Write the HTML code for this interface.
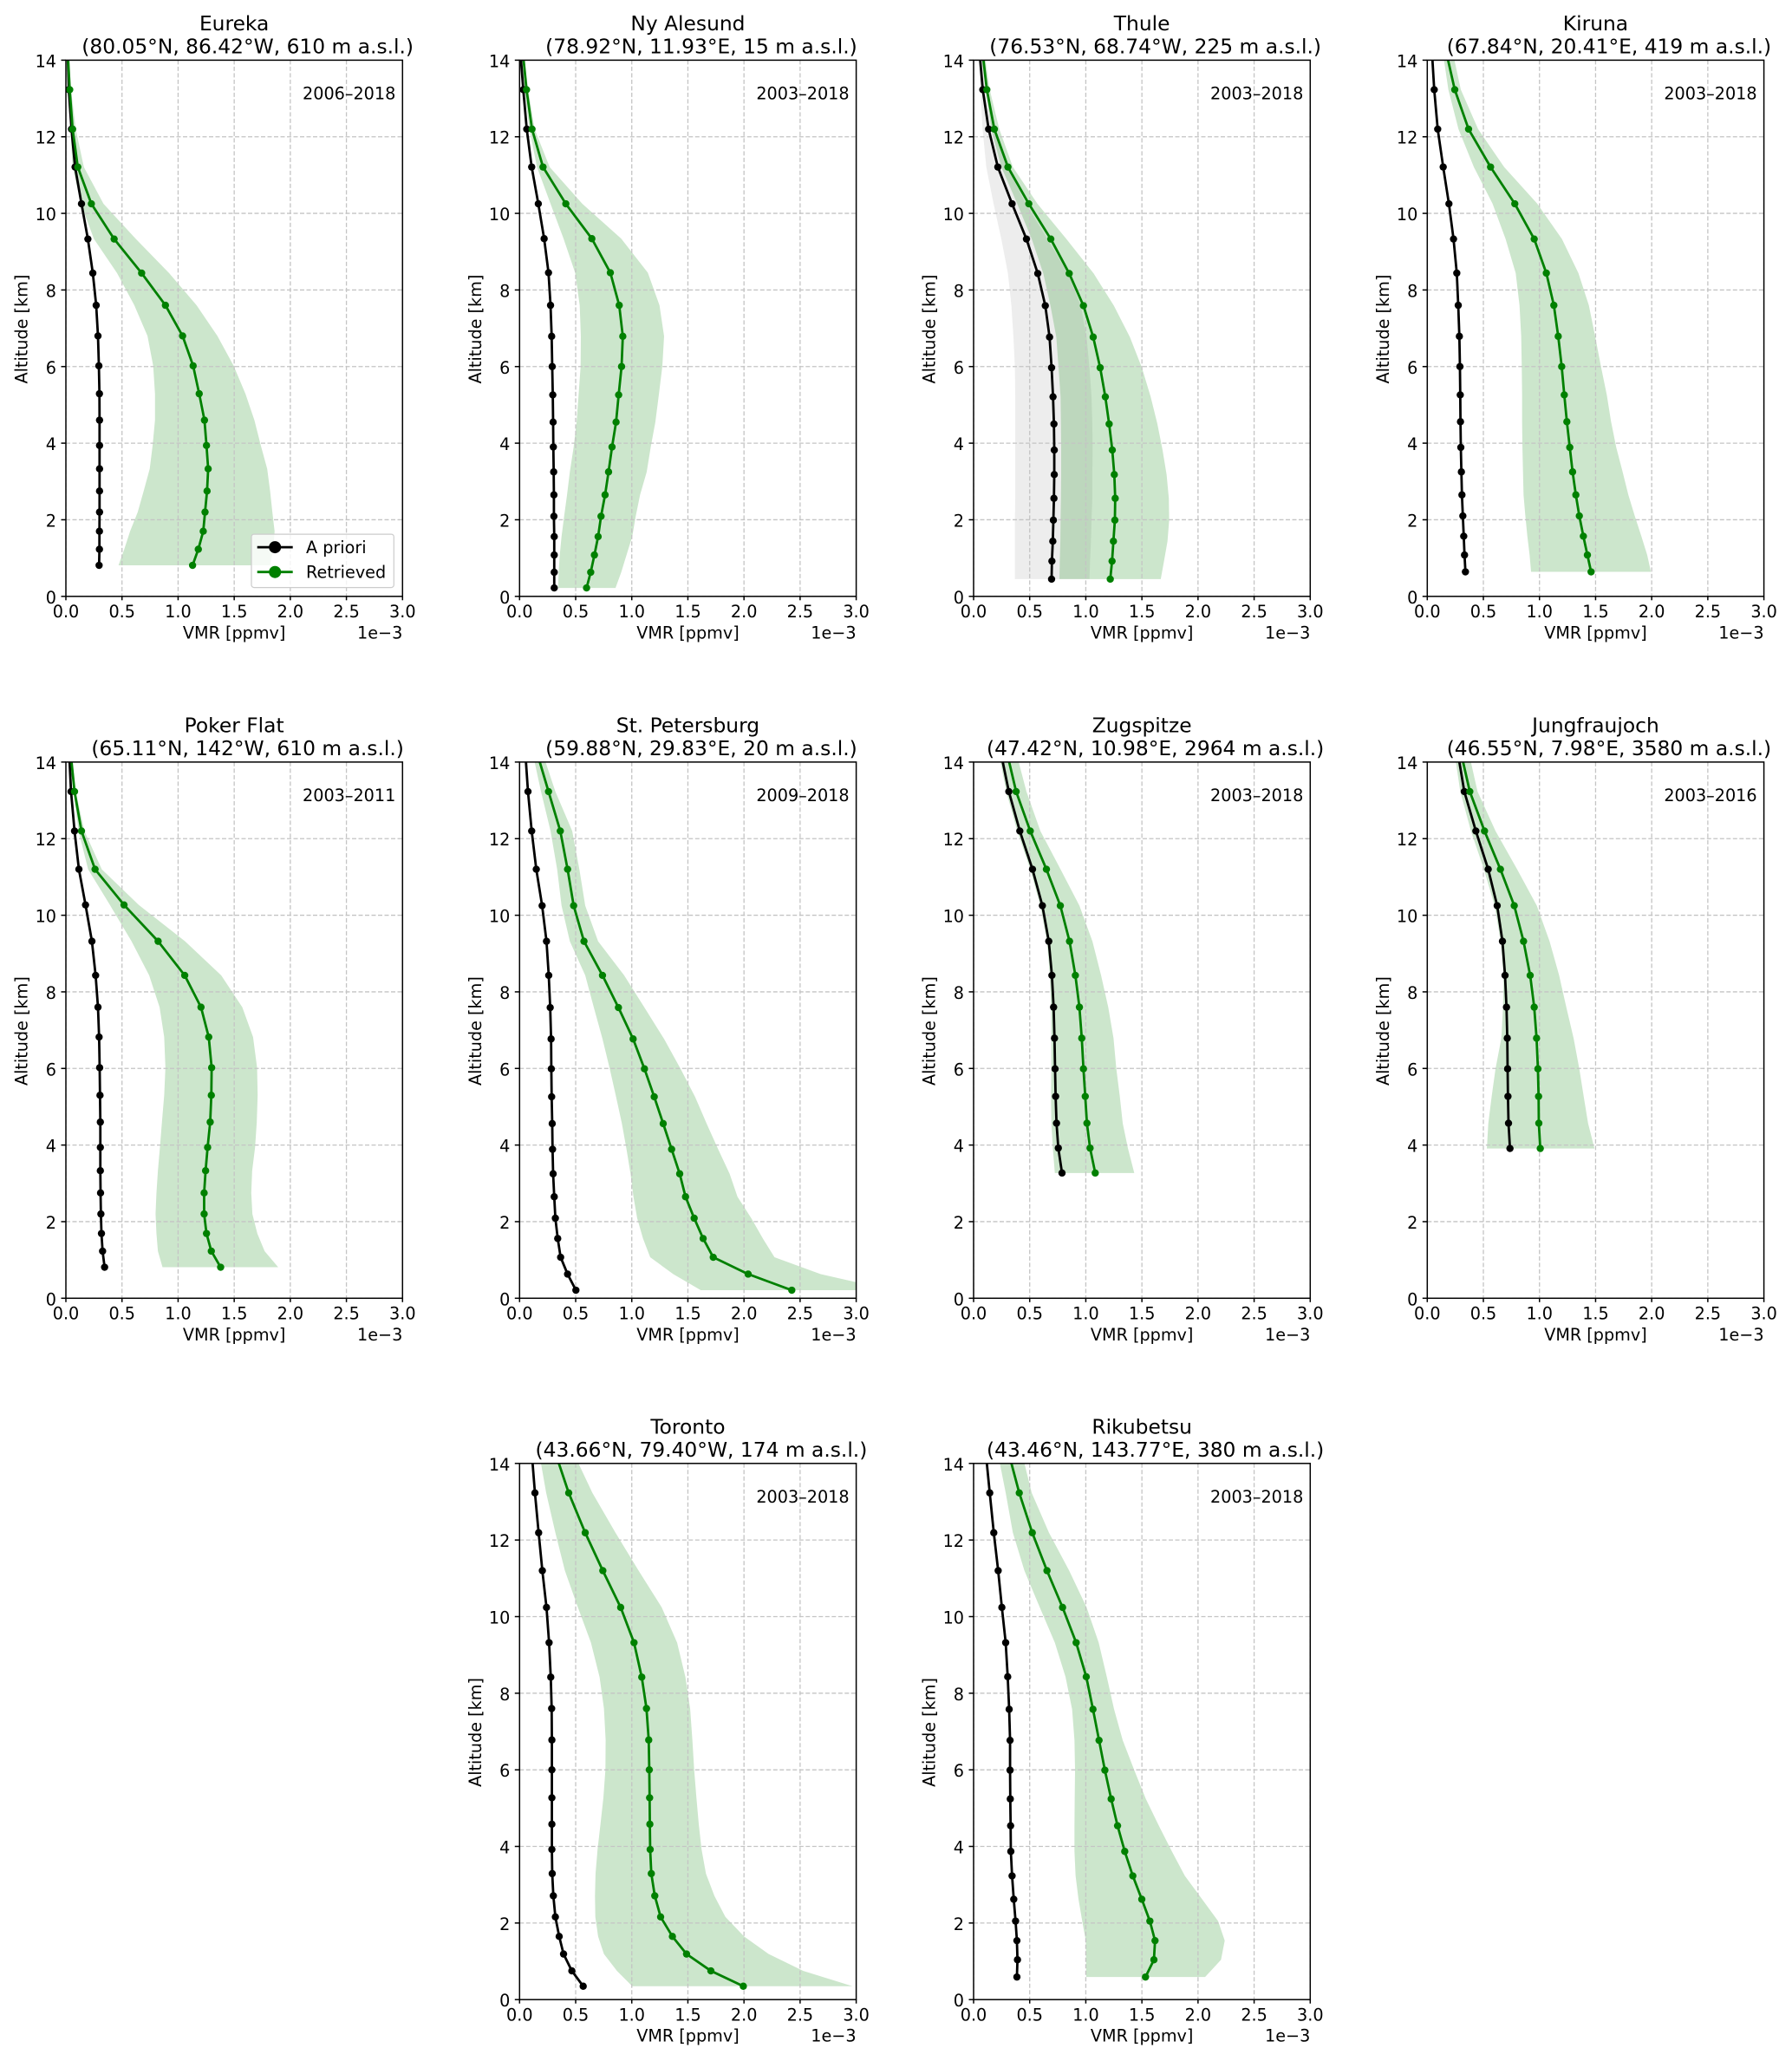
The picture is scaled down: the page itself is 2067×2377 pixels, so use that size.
<!DOCTYPE html>
<html>
<head>
<meta charset="utf-8">
<title>VMR profiles</title>
<style>
html,body{margin:0;padding:0;background:#fff;}
svg{display:block;}
text{font-family:"DejaVu Sans","Liberation Sans",sans-serif;fill:#000;}
</style>
</head>
<body>
<svg id="figure" xmlns="http://www.w3.org/2000/svg" width="2067" height="2377" viewBox="0 0 2067 2377"></svg>
<script>
// All VMR values are in units of 1e-3 ppmv, altitudes in km.
const xTickValues = [0, 0.5, 1, 1.5, 2, 2.5, 3];
const xTickLabels = ["0.0", "0.5", "1.0", "1.5", "2.0", "2.5", "3.0"];
const yTickValues = [0, 2, 4, 6, 8, 10, 12, 14];
const yTickLabels = ["0", "2", "4", "6", "8", "10", "12", "14"];

const eurekaAltitude = [14.3,13.23,12.2,11.21,10.25,9.33,8.44,7.6,6.8,6.02,5.29,4.6,3.94,3.33,2.75,2.2,1.7,1.23,0.81];
const eurekaApriori = [.015,.026,.05,.082,.139,.196,.24,.27,.286,.294,.299,.3,.3,.3,.3,.3,.299,.299,.296];
const eurekaRetrieved = [.015,.034,.06,.106,.227,.43,.675,.887,1.04,1.134,1.188,1.235,1.253,1.268,1.258,1.24,1.224,1.18,1.129];
const eurekaUpper = [.024,.046,.088,.16,.335,.624,.92,1.165,1.35,1.495,1.6,1.68,1.737,1.794,1.82,1.84,1.86,1.848,1.82];
const eurekaLower = [.008,.015,.04,.06,.134,.25,.456,.61,.727,.778,.794,.794,.773,.747,.693,.64,.572,.52,.469];

const nyAlesundAltitude = [14.3,13.23,12.2,11.21,10.25,9.34,8.45,7.6,6.79,6.0,5.26,4.55,3.9,3.25,2.65,2.09,1.56,1.08,.63,.22];
const nyAlesundApriori = [.005,.033,.064,.108,.167,.219,.258,.276,.286,.291,.296,.299,.301,.304,.306,.306,.309,.309,.309,.309];
const nyAlesundRetrieved = [.026,.062,.111,.209,.412,.644,.809,.888,.92,.909,.883,.86,.824,.793,.762,.726,.7,.667,.634,.597];
const nyAlesundUpper = [.033,.077,.134,.268,.559,.906,1.143,1.247,1.288,1.272,1.241,1.21,1.169,1.133,1.074,1.035,1.004,.953,.906,.855];
const nyAlesundLower = [.018,.044,.088,.155,.276,.392,.495,.536,.546,.544,.526,.508,.482,.448,.423,.397,.374,.358,.348,.343];

const thuleAltitude = [14.3,13.23,12.2,11.21,10.25,9.33,8.43,7.59,6.77,5.97,5.21,4.5,3.82,3.18,2.56,1.99,1.44,.92,.45];
const thuleApriori = [.05,.082,.134,.216,.343,.471,.572,.639,.677,.695,.708,.716,.719,.719,.716,.711,.706,.698,.695];
const thuleRetrieved = [.076,.118,.185,.306,.492,.688,.852,.979,1.066,1.128,1.174,1.208,1.236,1.254,1.262,1.259,1.246,1.234,1.218];
const thuleUpper = [.091,.144,.229,.35,.569,.827,1.07,1.25,1.393,1.5,1.578,1.638,1.684,1.72,1.74,1.743,1.728,1.697,1.668];
const thuleLower = [.061,.111,.157,.247,.389,.518,.621,.685,.737,.757,.775,.778,.78,.78,.778,.775,.773,.768,.765];
const thuleAprioriUpper = [.076,.118,.183,.299,.466,.659,.84,.955,1.007,1.033,1.051,1.058,1.061,1.058,1.058,1.051,1.046,1.038,1.033];
const thuleAprioriLower = [.045,.06,.08,.113,.178,.247,.306,.337,.355,.368,.371,.371,.371,.371,.371,.368,.368,.368,.368];

const kirunaAltitude = [14.3,13.23,12.2,11.21,10.25,9.33,8.44,7.6,6.79,6.0,5.26,4.56,3.89,3.25,2.65,2.1,1.57,1.08,.64];
const kirunaApriori = [.04,.062,.093,.142,.193,.234,.263,.276,.286,.291,.294,.296,.299,.304,.309,.317,.325,.332,.34];
const kirunaRetrieved = [.162,.245,.368,.564,.78,.953,1.061,1.128,1.167,1.198,1.221,1.244,1.27,1.295,1.324,1.355,1.391,1.427,1.46];
const kirunaUpper = [.22,.299,.453,.685,.981,1.2,1.347,1.44,1.496,1.548,1.6,1.638,1.684,1.741,1.792,1.849,1.908,1.96,1.993];
const kirunaLower = [.134,.188,.278,.415,.582,.698,.788,.822,.837,.842,.845,.845,.848,.853,.858,.874,.892,.912,.925];

const pokerFlatAltitude = [14.3,13.23,12.2,11.2,10.27,9.32,8.43,7.6,6.82,6.02,5.3,4.6,3.94,3.33,2.75,2.2,1.69,1.23,.81];
const pokerFlatApriori = [.028,.046,.077,.116,.175,.232,.265,.286,.296,.301,.304,.307,.307,.307,.309,.312,.317,.327,.345];
const pokerFlatRetrieved = [.04,.077,.139,.26,.518,.822,1.059,1.204,1.273,1.299,1.296,1.286,1.263,1.245,1.232,1.232,1.253,1.296,1.379];
const pokerFlatUpper = [.049,.088,.165,.32,.649,1.062,1.384,1.572,1.668,1.704,1.709,1.701,1.686,1.66,1.652,1.662,1.706,1.771,1.892];
const pokerFlatLower = [.03,.067,.113,.198,.392,.585,.742,.835,.876,.887,.876,.856,.838,.82,.807,.799,.807,.82,.861];

const stPetersburgAltitude = [14.3,13.23,12.2,11.2,10.25,9.32,8.43,7.59,6.77,5.99,5.26,4.56,3.89,3.25,2.65,2.09,1.56,1.07,.63,.21];
const stPetersburgApriori = [.05,.075,.108,.149,.201,.24,.26,.273,.281,.283,.286,.291,.294,.299,.309,.319,.34,.366,.428,.502];
const stPetersburgRetrieved = [.15,.258,.363,.428,.482,.574,.739,.881,1.012,1.113,1.2,1.28,1.355,1.427,1.479,1.556,1.636,1.726,2.037,2.426];
const stPetersburgUpper = [.198,.319,.469,.533,.585,.7,.932,1.113,1.288,1.435,1.564,1.667,1.77,1.872,1.942,2.065,2.168,2.272,2.684,3.31];
const stPetersburgLower = [.112,.191,.276,.335,.374,.448,.585,.662,.739,.804,.86,.912,.953,.989,1.015,1.048,1.1,1.164,1.37,1.615];

const zugspitzeAltitude = [14.3,13.23,12.2,11.2,10.25,9.32,8.43,7.6,6.79,5.99,5.27,4.57,3.92,3.27];
const zugspitzeApriori = [.239,.314,.412,.525,.613,.67,.698,.713,.721,.726,.731,.739,.755,.788];
const zugspitzeRetrieved = [.293,.379,.505,.649,.773,.855,.907,.943,.964,.979,.995,1.01,1.038,1.084];
const zugspitzeUpper = [.375,.471,.595,.775,.943,1.059,1.136,1.2,1.247,1.272,1.303,1.329,1.375,1.432];
const zugspitzeLower = [.22,.291,.389,.505,.595,.654,.68,.69,.693,.693,.69,.693,.706,.724];

const jungfraujochAltitude = [14.3,13.23,12.2,11.2,10.25,9.32,8.43,7.6,6.79,5.99,5.27,4.57,3.91];
const jungfraujochApriori = [.269,.33,.433,.543,.623,.67,.693,.706,.713,.716,.719,.724,.737];
const jungfraujochRetrieved = [.296,.379,.51,.652,.775,.858,.917,.953,.974,.986,.992,.994,1.007];
const jungfraujochUpper = [.366,.448,.608,.801,.976,1.09,1.175,1.239,1.304,1.355,1.394,1.433,1.49];
const jungfraujochLower = [.24,.294,.389,.505,.6,.654,.68,.675,.66,.608,.574,.544,.531];

const torontoAltitude = [14.3,13.23,12.19,11.2,10.24,9.32,8.42,7.6,6.78,6.0,5.27,4.58,3.92,3.29,2.71,2.16,1.65,1.19,.75,.35];
const torontoApriori = [.108,.137,.17,.203,.24,.263,.278,.286,.288,.288,.288,.288,.288,.291,.301,.319,.353,.392,.466,.567];
const torontoRetrieved = [.316,.438,.585,.742,.901,1.02,1.089,1.131,1.151,1.156,1.159,1.161,1.164,1.174,1.205,1.257,1.362,1.488,1.705,1.994];
const torontoUpper = [.477,.649,.855,1.061,1.267,1.404,1.478,1.52,1.54,1.556,1.576,1.597,1.622,1.661,1.736,1.834,2.001,2.22,2.529,2.967];
const torontoLower = [.173,.237,.319,.404,.52,.636,.713,.752,.767,.765,.747,.721,.695,.677,.672,.675,.7,.752,.868,1.004];

const rikubetsuAltitude = [14.3,13.23,12.19,11.2,10.24,9.32,8.43,7.58,6.77,5.99,5.24,4.54,3.87,3.23,2.62,2.05,1.54,1.04,.59];
const rikubetsuApriori = [.108,.144,.18,.219,.252,.286,.304,.317,.325,.325,.327,.33,.332,.343,.358,.374,.386,.391,.386];
const rikubetsuRetrieved = [.31,.407,.523,.654,.793,.914,1.004,1.064,1.118,1.17,1.226,1.283,1.347,1.419,1.499,1.571,1.617,1.607,1.532];
const rikubetsuUpper = [.428,.518,.672,.852,1.007,1.115,1.187,1.252,1.329,1.432,1.535,1.651,1.767,1.883,2.037,2.179,2.238,2.205,2.063];
const rikubetsuLower = [.214,.286,.35,.453,.59,.724,.819,.878,.899,.904,.901,.899,.899,.909,.935,.968,1.0,1.002,1.004];

const stationNames = ["Eureka","Ny Alesund","Thule","Kiruna","Poker Flat","St. Petersburg","Zugspitze","Jungfraujoch","Toronto","Rikubetsu"];
const stationLocations = [
  "(80.05°N, 86.42°W, 610 m a.s.l.)","(78.92°N, 11.93°E, 15 m a.s.l.)","(76.53°N, 68.74°W, 225 m a.s.l.)","(67.84°N, 20.41°E, 419 m a.s.l.)",
  "(65.11°N, 142°W, 610 m a.s.l.)","(59.88°N, 29.83°E, 20 m a.s.l.)","(47.42°N, 10.98°E, 2964 m a.s.l.)","(46.55°N, 7.98°E, 3580 m a.s.l.)",
  "(43.66°N, 79.40°W, 174 m a.s.l.)","(43.46°N, 143.77°E, 380 m a.s.l.)"];
const stationPeriods = ["2006–2018","2003–2018","2003–2018","2003–2018","2003–2011","2009–2018","2003–2018","2003–2016","2003–2018","2003–2018"];
const altitudeSeries = [eurekaAltitude,nyAlesundAltitude,thuleAltitude,kirunaAltitude,pokerFlatAltitude,stPetersburgAltitude,zugspitzeAltitude,jungfraujochAltitude,torontoAltitude,rikubetsuAltitude];
const aprioriSeries = [eurekaApriori,nyAlesundApriori,thuleApriori,kirunaApriori,pokerFlatApriori,stPetersburgApriori,zugspitzeApriori,jungfraujochApriori,torontoApriori,rikubetsuApriori];
const retrievedSeries = [eurekaRetrieved,nyAlesundRetrieved,thuleRetrieved,kirunaRetrieved,pokerFlatRetrieved,stPetersburgRetrieved,zugspitzeRetrieved,jungfraujochRetrieved,torontoRetrieved,rikubetsuRetrieved];
const upperSeries = [eurekaUpper,nyAlesundUpper,thuleUpper,kirunaUpper,pokerFlatUpper,stPetersburgUpper,zugspitzeUpper,jungfraujochUpper,torontoUpper,rikubetsuUpper];
const lowerSeries = [eurekaLower,nyAlesundLower,thuleLower,kirunaLower,pokerFlatLower,stPetersburgLower,zugspitzeLower,jungfraujochLower,torontoLower,rikubetsuLower];

const NS = "http://www.w3.org/2000/svg";
const root = document.getElementById("figure");
const PANEL_W = 388.3, PANEL_H = 618.4;
const X_MAX = 3, Y_MAX = 14;
const TICK_SIZE = 19.2, TITLE_SIZE = 23.35;

function layoutFor(i) {
  const colLefts = [76, 599.3, 1123, 1646.3];
  const rowTops = [69.4, 878.9, 1687.8];
  if (i < 8) return { left: colLefts[i % 4], top: rowTops[Math.floor(i / 4)] };
  return { left: colLefts[i - 7], top: rowTops[2] };
}
function make(tag, attrs, parent, text) {
  const el = document.createElementNS(NS, tag);
  for (const k in attrs) el.setAttribute(k, attrs[k]);
  if (text !== undefined) el.textContent = text;
  parent.appendChild(el);
  return el;
}
function pointsOf(xs, ys, xScale, yScale) {
  return xs.map((v, j) => xScale(v).toFixed(2) + "," + yScale(ys[j]).toFixed(2)).join(" ");
}
function bandPoints(upper, lower, alt, xScale, yScale) {
  const a = pointsOf(upper, alt, xScale, yScale);
  const b = pointsOf(lower.slice().reverse(), alt.slice().reverse(), xScale, yScale);
  return a + " " + b;
}

function drawPanel(i) {
  const { left, top } = layoutFor(i);
  const xScale = v => left + v / X_MAX * PANEL_W;
  const yScale = a => top + (Y_MAX - a) / Y_MAX * PANEL_H;
  const right = left + PANEL_W, bottom = top + PANEL_H;
  const alt = altitudeSeries[i];

  const panel = make("g", {}, root);
  
  

  const clipId = "clip" + i;
  const defs = make("defs", {}, panel);
  const clip = make("clipPath", { id: clipId }, defs);
  make("rect", { x: left, y: top, width: PANEL_W, height: PANEL_H }, clip);

  const plot = make("g", { "clip-path": "url(#" + clipId + ")" }, panel);
  
  

  if (i === 2) {
    const gray = make("polygon", { points: bandPoints(thuleAprioriUpper, thuleAprioriLower, alt, xScale, yScale), fill: "#000", "fill-opacity": 0.07 }, plot);
    
    
  }
  const band = make("polygon", { points: bandPoints(upperSeries[i], lowerSeries[i], alt, xScale, yScale), fill: "#008000", "fill-opacity": 0.2 }, plot);
  
  

  xTickValues.forEach(v => {
    const g = make("line", { x1: xScale(v), x2: xScale(v), y1: top, y2: bottom, stroke: "#c4c4c4", "stroke-width": 1.3, "stroke-dasharray": "5 2.5" }, plot);
    
    
  });
  yTickValues.forEach(v => {
    const g = make("line", { x1: left, x2: right, y1: yScale(v), y2: yScale(v), stroke: "#c4c4c4", "stroke-width": 1.3, "stroke-dasharray": "5 2.5" }, plot);
    
    
  });

  [[aprioriSeries[i], "#000", "apriori"], [retrievedSeries[i], "#008000", "retrieved"]].forEach(s => {
    const line = make("polyline", { points: pointsOf(s[0], alt, xScale, yScale), fill: "none", stroke: s[1], "stroke-width": 2.8, "stroke-linejoin": "round" }, plot);
    
    
    s[0].forEach((v, j) => {
      const dot = make("circle", { cx: xScale(v), cy: yScale(alt[j]), r: 4.2, fill: s[1] }, plot);
      
      
    });
  });

  const frame = make("rect", { x: left, y: top, width: PANEL_W, height: PANEL_H, fill: "none", stroke: "#000", "stroke-width": 1.5 }, panel);
  
  

  xTickValues.forEach((v, j) => {
    const t = make("line", { x1: xScale(v), x2: xScale(v), y1: bottom, y2: bottom + 4.5, stroke: "#000", "stroke-width": 1.5 }, panel);
    
    
    const l = make("text", { x: xScale(v), y: bottom + 24.2, "text-anchor": "middle", "font-size": TICK_SIZE }, panel, xTickLabels[j]);
    
    
  });
  yTickValues.forEach((v, j) => {
    const t = make("line", { x1: left - 5.5, x2: left, y1: yScale(v), y2: yScale(v), stroke: "#000", "stroke-width": 1.5 }, panel);
    
    
    const l = make("text", { x: left - 11, y: yScale(v) + 8, "text-anchor": "end", "font-size": TICK_SIZE }, panel, yTickLabels[j]);
    
    
  });

  const cx = left + PANEL_W / 2, cy = top + PANEL_H / 2;
  const xlabel = make("text", { x: cx, y: bottom + 48.5, "text-anchor": "middle", "font-size": TICK_SIZE }, panel, "VMR [ppmv]");
  
  

  const offset = make("text", { x: right, y: bottom + 48.5, "text-anchor": "end", "font-size": TICK_SIZE }, panel, "1e−3");
  
  

  const ylabel = make("text", { x: 0, y: 0, transform: "translate(" + (left - 44.5) + "," + (cy + 1) + ") rotate(-90)", "text-anchor": "middle", "font-size": TICK_SIZE }, panel, "Altitude [km]");
  
  

  const name = make("text", { x: cx, y: top - 34.4, "text-anchor": "middle", "font-size": TITLE_SIZE }, panel, stationNames[i]);
  
  

  const loc = make("text", { x: cx + 15.5, y: top - 7.7, "text-anchor": "middle", "font-size": TITLE_SIZE }, panel, stationLocations[i]);
  
  

  const period = make("text", { x: right - 8, y: top + 45, "text-anchor": "end", "font-size": TICK_SIZE }, panel, stationPeriods[i]);
  
  

  if (i === 0) drawLegend(panel, left, bottom);
}

function drawLegend(parent, left, bottom) {
  const g = make("g", {}, parent);
  
  
  const lx = left + 214, ly = bottom - 71.7;
  const box = make("rect", { x: lx, y: ly, width: 164.3, height: 61.5, rx: 3, ry: 3, fill: "#fff", "fill-opacity": 0.8, stroke: "#ccc", "stroke-width": 1.2 }, g);
  
  
  [["A priori", "#000", 15], ["Retrieved", "#008000", 43.6]].forEach(e => {
    const entry = make("g", {}, g);
    
    
    const line = make("line", { x1: lx + 6.7, x2: lx + 47.7, y1: ly + e[2], y2: ly + e[2], stroke: e[1], "stroke-width": 2.8 }, entry);
    
    
    const dot = make("circle", { cx: lx + 27.2, cy: ly + e[2], r: 7, fill: e[1] }, entry);
    
    
    const txt = make("text", { x: lx + 63, y: ly + e[2] + 7, "font-size": TICK_SIZE }, entry, e[0]);
    
    
  });
}

stationNames.forEach((n, i) => drawPanel(i));
</script>
</body>
</html>
